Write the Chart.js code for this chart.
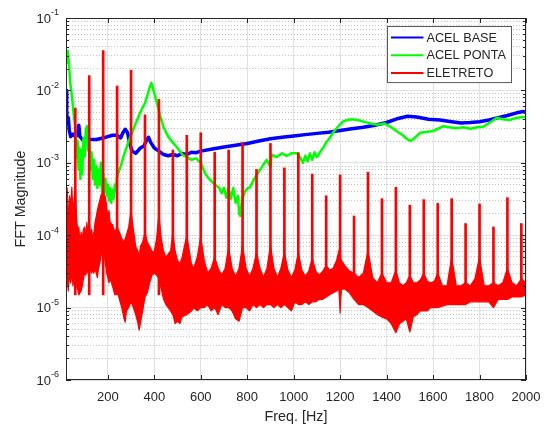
<!DOCTYPE html>
<html>
<head>
<meta charset="utf-8">
<script src="https://cdn.jsdelivr.net/npm/chart.js@4.4.1/dist/chart.umd.min.js"></script>
<style>
  html, body { margin: 0; padding: 0; background: #fff; }
</style>
</head>
<body>
<canvas id="fftChart" width="544" height="426"></canvas>
<script>
// ACEL BASE (blue)
const baseFreq = [20, 23, 26, 30, 34, 40, 50, 60, 70, 75, 80, 90, 110, 130, 150, 180, 200, 220, 240, 255, 265, 275, 285, 295, 305, 320, 340, 355, 365, 375, 385, 400, 420, 440, 460, 480, 500, 520, 540, 560, 580, 600, 650, 700, 750, 800, 850, 900, 950, 1000, 1050, 1100, 1150, 1200, 1250, 1300, 1350, 1400, 1450, 1490, 1530, 1580, 1630, 1680, 1720, 1760, 1800, 1840, 1880, 1920, 1960, 1990, 2000];
const baseVal = [1.0e-2, 5e-3, 3.5e-3, 4.2e-3, 2.8e-3, 2.3e-3, 2.5e-3, 2.3e-3, 2.4e-3, 3.3e-3, 2.3e-3, 2.1e-3, 2.15e-3, 2.1e-3, 2.1e-3, 2.2e-3, 2.3e-3, 2.4e-3, 2.4e-3, 2.2e-3, 2.6e-3, 2.9e-3, 2.6e-3, 1.8e-3, 1.45e-3, 1.35e-3, 1.6e-3, 1.7e-3, 2.0e-3, 2.25e-3, 1.9e-3, 1.6e-3, 1.45e-3, 1.3e-3, 1.25e-3, 1.3e-3, 1.25e-3, 1.35e-3, 1.3e-3, 1.4e-3, 1.38e-3, 1.45e-3, 1.55e-3, 1.65e-3, 1.75e-3, 1.85e-3, 2.0e-3, 2.15e-3, 2.25e-3, 2.35e-3, 2.45e-3, 2.55e-3, 2.65e-3, 2.8e-3, 2.95e-3, 3.1e-3, 3.3e-3, 3.6e-3, 4.1e-3, 4.4e-3, 4.3e-3, 4.0e-3, 3.9e-3, 3.7e-3, 3.55e-3, 3.6e-3, 3.7e-3, 3.9e-3, 4.2e-3, 4.5e-3, 4.9e-3, 5.1e-3, 4.9e-3];

// ACEL PONTA (green)
const pontaFreq = [20, 24, 28, 32, 38, 46, 52, 58, 62, 66, 70, 74, 78, 82, 86, 90, 95, 100, 105, 110, 115, 120, 125, 130, 135, 140, 145, 150, 155, 160, 165, 170, 175, 180, 185, 190, 195, 200, 205, 210, 215, 220, 225, 230, 235, 240, 250, 260, 270, 280, 290, 300, 310, 320, 330, 340, 350, 360, 370, 380, 387, 395, 405, 415, 425, 440, 460, 480, 500, 520, 540, 560, 580, 600, 620, 640, 660, 680, 690, 700, 710, 720, 730, 740, 750, 760, 765, 770, 775, 780, 790, 800, 812, 830, 855, 870, 884, 900, 905, 927, 950, 970, 990, 1014, 1030, 1040, 1050, 1060, 1070, 1080, 1090, 1100, 1113, 1126, 1140, 1155, 1169, 1185, 1200, 1212, 1230, 1250, 1275, 1300, 1330, 1360, 1390, 1420, 1445, 1470, 1490, 1505, 1520, 1545, 1600, 1645, 1670, 1700, 1730, 1760, 1790, 1815, 1845, 1875, 1900, 1930, 1960, 1990, 2000];
const pontaVal = [2.4e-2, 3.0e-2, 3.5e-2, 2.5e-2, 1.3e-2, 8e-3, 5e-3, 3.5e-3, 2.2e-3, 1.2e-3, 2.0e-3, 8e-4, 1.6e-3, 6e-4, 1.5e-3, 7e-4, 2.2e-3, 1.2e-3, 2.8e-3, 3.2e-3, 1.5e-3, 2.0e-3, 8e-4, 1.4e-3, 6e-4, 1.1e-3, 5e-4, 9e-4, 4.5e-4, 8e-4, 5e-4, 1.0e-3, 4e-4, 7e-4, 4e-4, 6e-4, 3.5e-4, 5e-4, 3e-4, 4.5e-4, 2.8e-4, 4.2e-4, 3.2e-4, 5e-4, 4e-4, 6.5e-4, 8e-4, 1.0e-3, 1.3e-3, 1.6e-3, 2.0e-3, 2.4e-3, 2.9e-3, 3.5e-3, 4.2e-3, 5e-3, 5.8e-3, 6.7e-3, 8.5e-3, 1.1e-2, 1.27e-2, 1.05e-2, 8e-3, 6e-3, 4.5e-3, 3.1e-3, 2.3e-3, 1.9e-3, 1.6e-3, 1.3e-3, 1.2e-3, 1.1e-3, 1.15e-3, 1.0e-3, 7e-4, 5.8e-4, 5e-4, 4.5e-4, 3.8e-4, 4.5e-4, 3.3e-4, 4.4e-4, 3.2e-4, 4.5e-4, 2.8e-4, 3.5e-4, 2.0e-4, 1.85e-4, 2.6e-4, 3.2e-4, 4.0e-4, 4.4e-4, 4.6e-4, 6e-4, 8e-4, 9.5e-4, 1.1e-3, 8.7e-4, 1.3e-3, 1.2e-3, 1.35e-3, 1.25e-3, 1.35e-3, 1.35e-3, 1.15e-3, 1.0e-3, 1.25e-3, 1.05e-3, 1.35e-3, 1.1e-3, 1.4e-3, 1.2e-3, 1.4e-3, 1.6e-3, 1.9e-3, 2.2e-3, 2.6e-3, 3.0e-3, 3.4e-3, 3.7e-3, 3.9e-3, 4.0e-3, 3.9e-3, 3.7e-3, 3.5e-3, 3.35e-3, 3.5e-3, 3.1e-3, 2.7e-3, 2.4e-3, 2.1e-3, 2.0e-3, 2.2e-3, 2.6e-3, 2.75e-3, 3.2e-3, 3.1e-3, 3.0e-3, 3.1e-3, 2.95e-3, 3.1e-3, 3.15e-3, 3.6e-3, 4.2e-3, 4.0e-3, 3.9e-3, 4.2e-3, 4.3e-3, 4.3e-3];

// ELETRETO (red): noise band limits
const eletFreq = [20, 25, 30, 35, 40, 45, 50, 55, 60, 65, 70, 75, 80, 85, 90, 95, 100, 105, 110, 115, 120, 125, 130, 135, 140, 145, 150, 155, 160, 165, 170, 175, 180, 185, 190, 195, 200, 205, 210, 220, 230, 240, 250, 260, 270, 275, 280, 290, 300, 310, 320, 330, 335, 340, 350, 360, 370, 380, 390, 400, 410, 420, 430, 440, 450, 460, 470, 480, 490, 500, 510, 520, 540, 560, 570, 585, 600, 615, 630, 645, 660, 675, 690, 705, 720, 735, 750, 765, 780, 795, 810, 825, 840, 855, 870, 885, 900, 915, 930, 945, 960, 975, 990, 1005, 1020, 1035, 1050, 1065, 1080, 1095, 1110, 1125, 1140, 1155, 1170, 1185, 1195, 1200, 1205, 1220, 1240, 1260, 1280, 1300, 1320, 1340, 1360, 1380, 1400, 1420, 1440, 1455, 1470, 1485, 1500, 1515, 1530, 1545, 1560, 1575, 1590, 1605, 1620, 1640, 1660, 1680, 1700, 1720, 1740, 1760, 1780, 1800, 1820, 1840, 1860, 1880, 1900, 1920, 1940, 1960, 1980, 2000];
const eletUpper = [2.2e-4, 4.5e-4, 1.5e-4, 3.5e-4, 2.5e-4, 4.6e-4, 2e-4, 3e-4, 5e-4, 1.8e-4, 1.2e-4, 1.3e-4, 8e-5, 1.1e-4, 9e-5, 1.2e-4, 1.3e-4, 1.0e-4, 1.5e-4, 1.0e-4, 1.6e-4, 1.0e-4, 1.2e-4, 9e-5, 1.1e-4, 1.5e-4, 1.8e-4, 2.2e-4, 2.6e-4, 3e-4, 3.5e-4, 3.8e-4, 4.2e-4, 3.6e-4, 3.3e-4, 2.5e-4, 1.8e-4, 2.2e-4, 1.5e-4, 1.4e-4, 1.1e-4, 1.3e-4, 1.1e-4, 9e-5, 8e-5, 9e-5, 1e-4, 1.3e-4, 2.2e-4, 1.2e-4, 7e-5, 6e-5, 5e-5, 7e-5, 8e-5, 1.1e-4, 8e-5, 7e-5, 6e-5, 6e-5, 9e-5, 2e-4, 9e-5, 6e-5, 5e-5, 5.5e-5, 6e-5, 1.1e-4, 6e-5, 4.5e-5, 4e-5, 5e-5, 1.0e-4, 4e-5, 3.5e-5, 5e-5, 9.5e-5, 4.5e-5, 3e-5, 3.5e-5, 5e-5, 3.5e-5, 2.8e-5, 3.5e-5, 6.8e-5, 3.5e-5, 2.7e-5, 3.5e-5, 7.3e-5, 3.5e-5, 2.7e-5, 3.5e-5, 5.8e-5, 3.5e-5, 2.6e-5, 3.5e-5, 7.3e-5, 3.5e-5, 2.6e-5, 3.5e-5, 5.8e-5, 3.3e-5, 2.6e-5, 3.3e-5, 5.8e-5, 3.3e-5, 2.7e-5, 3.2e-5, 4.8e-5, 3.2e-5, 2.8e-5, 3.2e-5, 3.8e-5, 3.3e-5, 3.5e-5, 4.5e-5, 6.2e-5, 5e-5, 4.5e-5, 3.8e-5, 3.2e-5, 3e-5, 2.6e-5, 3e-5, 6.2e-5, 2.6e-5, 2.2e-5, 3e-5, 2.2e-5, 2.2e-5, 3.3e-5, 2.2e-5, 2.0e-5, 2.2e-5, 2.8e-5, 2.2e-5, 2.2e-5, 2.4e-5, 3e-5, 2.3e-5, 2.2e-5, 2.3e-5, 3e-5, 2e-5, 2e-5, 5e-5, 2e-5, 2e-5, 2.2e-5, 2e-5, 2.5e-5, 5e-5, 2e-5, 2e-5, 2.2e-5, 2e-5, 2.2e-5, 3.5e-5, 2.2e-5, 2e-5, 2.5e-5, 2.2e-5];
const eletLower = [1.8e-5, 2.5e-5, 1.7e-5, 3e-5, 2.2e-5, 3e-5, 2e-5, 2.5e-5, 3e-5, 2e-5, 1.8e-5, 1.5e-5, 1.6e-5, 1.7e-5, 2e-5, 2.5e-5, 3e-5, 2.8e-5, 3.3e-5, 3e-5, 4e-5, 3.3e-5, 3e-5, 3.2e-5, 3e-5, 3.5e-5, 3e-5, 2.6e-5, 3.5e-5, 4e-5, 5e-5, 6e-5, 7e-5, 5e-5, 4e-5, 3e-5, 2.6e-5, 2.2e-5, 2.5e-5, 2e-5, 1.5e-5, 1.7e-5, 1.3e-5, 1e-5, 7e-6, 6.3e-6, 9e-6, 1e-5, 1.2e-5, 1e-5, 8e-6, 6e-6, 4.9e-6, 6e-6, 9e-6, 1.4e-5, 1.6e-5, 2.2e-5, 2.8e-5, 3e-5, 2.8e-5, 2.5e-5, 1.8e-5, 1.3e-5, 1.1e-5, 1e-5, 9e-6, 8e-6, 6e-6, 6.5e-6, 6e-6, 7.5e-6, 8e-6, 9e-6, 1e-5, 9e-6, 1e-5, 1e-5, 1.1e-5, 9e-6, 1e-5, 8e-6, 1.1e-5, 1e-5, 1e-5, 9e-6, 7e-6, 6.5e-6, 1e-5, 1e-5, 9e-6, 1.1e-5, 1e-5, 1.1e-5, 1e-5, 1.1e-5, 1.1e-5, 1e-5, 1.1e-5, 1e-5, 1.1e-5, 1e-5, 9e-6, 1.2e-5, 1.1e-5, 1.1e-5, 1.2e-5, 1.1e-5, 1.2e-5, 1.2e-5, 1.3e-5, 1.3e-5, 1.4e-5, 1.5e-5, 1.6e-5, 1.7e-5, 1.8e-5, 8.4e-6, 1.8e-5, 1.8e-5, 1.6e-5, 1.3e-5, 1.1e-5, 1.1e-5, 1e-5, 9e-6, 8e-6, 7.4e-6, 7e-6, 6e-6, 4.5e-6, 6e-6, 6.5e-6, 7e-6, 4.6e-6, 7.5e-6, 8e-6, 9e-6, 9e-6, 9e-6, 1e-5, 1e-5, 1e-5, 1.05e-5, 1.1e-5, 1.1e-5, 1.1e-5, 1.1e-5, 1.1e-5, 1.2e-5, 1.2e-5, 1.2e-5, 1.2e-5, 1.2e-5, 1e-5, 1.3e-5, 1.3e-5, 1.3e-5, 1.4e-5, 1.4e-5, 1.4e-5, 1.5e-5];

// ELETRETO: mains harmonics
const peakFreq = [60, 120, 180, 240, 300, 360, 420, 480, 540, 600, 660, 720, 780, 840, 900, 960, 1020, 1080, 1140, 1200, 1260, 1320, 1380, 1440, 1500, 1560, 1620, 1680, 1740, 1800, 1860, 1920, 1980];
const peakVal = [5.7e-3, 1.6e-2, 3.55e-2, 1.15e-2, 1.9e-2, 4.6e-3, 7.5e-3, 1.5e-3, 2.4e-3, 2.6e-3, 1.4e-3, 1.5e-3, 1.9e-3, 8.1e-4, 1.85e-3, 8.5e-4, 1.38e-3, 7e-4, 3.5e-4, 6.8e-4, 1.84e-4, 7.4e-4, 3.2e-4, 4.6e-4, 2.6e-4, 3.1e-4, 2.75e-4, 3.2e-4, 1.45e-4, 2.7e-4, 1.3e-4, 3.3e-4, 1.45e-4];
const peakFloor = 1.5e-5;

const xTicks = [200, 400, 600, 800, 1000, 1200, 1400, 1600, 1800, 2000];
const yExponents = [-6, -5, -4, -3, -2, -1];

const fontFamily = '"Liberation Sans", Arial, Helvetica, sans-serif';
const axisColor = '#262626';

function pts(xs, ys) {
    return xs.map((f, i) => ({ x: f, y: ys[i] }));
}
function isDecade(v) {
    const l = Math.log10(v);
    return Math.abs(l - Math.round(l)) < 1e-6;
}

// MATLAB like frame, tick marks, labels and boxed legend
const matlabFrame = {
    id: 'matlabFrame',
    afterDraw(chart) {
        const { ctx, chartArea: a, scales: { x, y } } = chart;
        ctx.save();
        ctx.strokeStyle = axisColor;
        ctx.lineWidth = 1;
        ctx.beginPath();
        x.ticks.forEach(t => {
            const px = Math.round(x.getPixelForValue(t.value)) + 0.5;
            ctx.moveTo(px, a.bottom); ctx.lineTo(px, a.bottom - 5);
            ctx.moveTo(px, a.top); ctx.lineTo(px, a.top + 5);
        });
        y.ticks.forEach(t => {
            const py = Math.round(y.getPixelForValue(t.value)) + 0.5;
            const len = isDecade(t.value) ? 5 : 3;
            ctx.moveTo(a.left, py); ctx.lineTo(a.left + len, py);
            ctx.moveTo(a.right, py); ctx.lineTo(a.right - len, py);
        });
        ctx.stroke();
        ctx.strokeRect(Math.round(a.left) + 0.5, Math.round(a.top) + 0.5,
            Math.round(a.right - a.left) - 1, Math.round(a.bottom - a.top) - 1);

        // x tick labels
        ctx.fillStyle = axisColor;
        ctx.font = '13px ' + fontFamily;
        ctx.textAlign = 'center';
        ctx.textBaseline = 'middle';
        xTicks.forEach(v => ctx.fillText(String(v), x.getPixelForValue(v), a.bottom + 17));

        // y tick labels 10^n
        yExponents.forEach(e => {
            const py = y.getPixelForValue(Math.pow(10, e));
            ctx.font = '9px ' + fontFamily;
            const sup = String(e);
            const supW = ctx.measureText(sup).width;
            const supX = a.left - 7 - supW;
            ctx.textAlign = 'left';
            ctx.fillText(sup, supX, py - 5);
            ctx.font = '13px ' + fontFamily;
            ctx.textAlign = 'right';
            ctx.fillText('10', supX, py + 1);
        });

        // axis titles
        ctx.font = '14.3px ' + fontFamily;
        ctx.textAlign = 'center';
        ctx.fillText('Freq. [Hz]', (a.left + a.right) / 2, a.bottom + 37);
        ctx.save();
        ctx.translate(21, (a.top + a.bottom) / 2);
        ctx.rotate(-Math.PI / 2);
        ctx.fillText('FFT Magnitude', 0, 0);
        ctx.restore();

        // legend
        const items = chart.data.datasets.filter(d => d.showInLegend);
        const boxW = 124, rowH = 17.7;
        const boxH = items.length * rowH + 3;
        const bx = Math.round(a.right - 15 - boxW) + 0.5;
        const by = Math.round(a.top + 8) + 0.5;
        ctx.fillStyle = '#ffffff';
        ctx.fillRect(bx, by, boxW, boxH);
        ctx.strokeStyle = '#5a5a5a';
        ctx.strokeRect(bx, by, boxW, boxH);
        ctx.font = '12.7px ' + fontFamily;
        ctx.textAlign = 'left';
        items.forEach((d, i) => {
            const ry = by + 11 + i * rowH;
            ctx.strokeStyle = d.borderColor;
            ctx.lineWidth = 2;
            ctx.beginPath();
            ctx.moveTo(bx + 3.5, ry); ctx.lineTo(bx + 36, ry);
            ctx.stroke();
            ctx.fillStyle = axisColor;
            ctx.fillText(d.label, bx + 39, ry + 0.5);
        });
        ctx.restore();
    }
};

new Chart(document.getElementById('fftChart').getContext('2d'), {
    type: 'line',
    data: {
        datasets: [{
            label: 'ACEL BASE',
            data: pts(baseFreq, baseVal),
            borderColor: '#0000ff',
            borderWidth: 3.5,
            order: 3,
            showInLegend: true
        }, {
            label: 'ACEL PONTA',
            data: pts(pontaFreq, pontaVal),
            borderColor: '#00ff00',
            borderWidth: 2.5,
            order: 2,
            showInLegend: true
        }, {
            label: 'ELETRETO',
            data: pts(eletFreq, eletUpper),
            borderColor: '#ff0000',
            backgroundColor: '#ff0000',
            borderWidth: 1.2,
            fill: '+1',
            order: 1,
            showInLegend: true
        }, {
            label: 'ELETRETO lower',
            data: pts(eletFreq, eletLower),
            borderColor: '#ff0000',
            borderWidth: 1.2,
            fill: false,
            order: 1
        }, {
            type: 'bar',
            label: 'ELETRETO peaks',
            data: peakFreq.map((f, i) => ({ x: f, y: [peakFloor, peakVal[i]] })),
            backgroundColor: '#ff0000',
            borderWidth: 0,
            barThickness: 2,
            order: 0
        }]
    },
    options: {
        responsive: false,
        devicePixelRatio: 1,
        animation: false,
        events: [],
        layout: { padding: { top: 18, right: 18, left: 0, bottom: 0 } },
        elements: {
            point: { radius: 0 },
            line: { tension: 0, borderJoinStyle: 'round' }
        },
        scales: {
            x: {
                type: 'linear',
                min: 20,
                max: 2000,
                offset: false,
                afterBuildTicks: (s) => { s.ticks = xTicks.map(v => ({ value: v })); },
                afterFit: (s) => { s.height = 46; },
                ticks: { display: false },
                grid: { color: '#e1e1e1', lineWidth: 1, drawTicks: false, offset: false },
                border: { display: false }
            },
            y: {
                type: 'logarithmic',
                min: 1e-6,
                max: 1e-1,
                afterBuildTicks: (s) => {
                    const t = [];
                    yExponents.forEach(e => {
                        for (let m = 1; m <= 9; m++) {
                            const v = m * Math.pow(10, e);
                            if (v <= 1e-1 + 1e-12) t.push({ value: v });
                        }
                    });
                    s.ticks = t;
                },
                afterFit: (s) => { s.width = 66; },
                ticks: { display: false },
                grid: {
                    drawTicks: false,
                    lineWidth: 1,
                    color: (c) => (c.tick && isDecade(c.tick.value)) ? '#e1e1e1' : '#c4c4c4'
                },
                border: {
                    display: false,
                    dash: (c) => (c.tick && isDecade(c.tick.value)) ? [] : [1, 2]
                }
            }
        },
        plugins: {
            legend: { display: false },
            tooltip: { enabled: false }
        }
    },
    plugins: [matlabFrame]
});
</script>
</body>
</html>
